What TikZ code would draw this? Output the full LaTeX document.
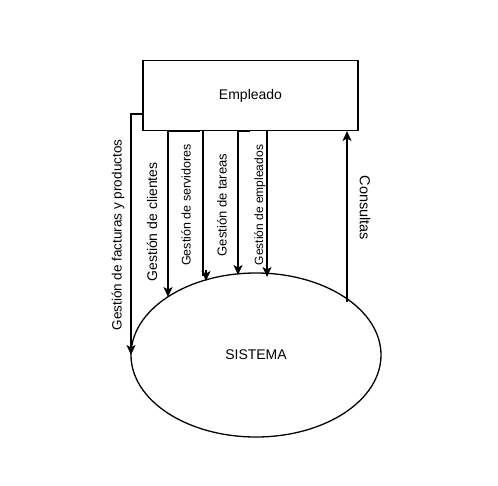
\documentclass[tikz,border=0pt]{standalone}
\usepackage{fontspec}
\setmainfont{Liberation Sans}
\usetikzlibrary{arrows.meta,shapes.geometric}
\begin{document}
\begin{tikzpicture}[x=1pt,y=-1pt,
  box/.style={draw,line width=1.3pt,minimum width=215pt,minimum height=70pt,inner sep=0pt},
  proc/.style={draw,ellipse,line width=1.3pt,minimum width=250pt,minimum height=164pt,inner sep=0pt},
  flow/.style={line width=1.3pt,-{Stealth[length=10pt,width=9pt,inset=2.5pt]}},
  lbl/.style={inner sep=0pt}]
\useasboundingbox (0,0) rectangle (498,485);
\node[box] (emp) at (250.5,95.5) {\fontsize{14}{16}\selectfont Empleado};
\node[proc] (sis) at (256,355) {\fontsize{14}{16}\selectfont SISTEMA};
% facturas
\coordinate (f0) at (143,114);
\coordinate (f1) at (131,114);
\coordinate (f2) at (131,355);
\draw[flow] (f0) -- (f1) -- (f2);
\coordinate (c0) at (200,131);
\coordinate (c1) at (168,131);
\coordinate (c2) at (168,297);
\draw[flow] (c0) -- (c1) -- (c2);
\coordinate (s0) at (203,131);
\coordinate (s1) at (203,276);
\coordinate (s2) at (206,270);
\coordinate (s3) at (206,281);
\draw[line width=1.3pt] (s0) -- (s1);
\draw[flow] (s2) -- (s3);
\coordinate (t0) at (250,131);
\coordinate (t1) at (238,131);
\coordinate (t2) at (238,275);
\draw[flow] (t0) -- (t1) -- (t2);
\coordinate (e0) at (267,131);
\coordinate (e1) at (267,277);
\draw[flow] (e0) -- (e1);
\coordinate (k0) at (347,302);
\coordinate (k1) at (347,131);
\draw[flow] (k0) -- (k1);
\node[lbl,rotate=90,font=\fontsize{13.5}{16}\selectfont] (lf) at (118,235) {Gestión de facturas y productos};
\node[lbl,rotate=90,font=\fontsize{14}{16}\selectfont] (lc) at (152,222) {Gestión de clientes};
\node[lbl,rotate=90,font=\fontsize{12.5}{14}\selectfont] (ls) at (186,205) {Gestión de servidores};
\node[lbl,rotate=90,font=\fontsize{13}{15}\selectfont] (lt) at (222,205) {Gestión de tareas};
\node[lbl,rotate=90,font=\fontsize{12}{14}\selectfont] (le) at (260,205) {Gestión de empleados};
\node[lbl,rotate=-90,font=\fontsize{14.5}{16}\selectfont] (lk) at (365,208) {Consultas};
\end{tikzpicture}
\end{document}
